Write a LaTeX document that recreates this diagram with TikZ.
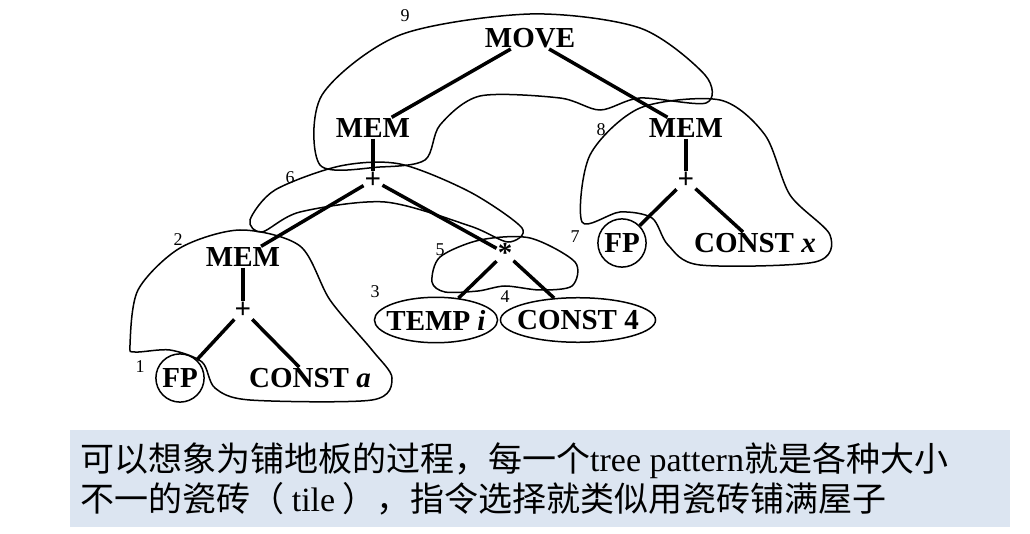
\documentclass[tikz,border=0pt]{standalone}
\usepackage{fontspec}
\setmainfont{Liberation Serif}
\newfontfamily\cjk{Noto Sans CJK SC}
\usetikzlibrary{shapes.geometric}
\begin{document}
\begin{tikzpicture}
[
x=1pt, y=-1pt,
op-a/.style={font=\fontsize{29}{31}\selectfont\bfseries, inner sep=1pt},
leaf-c/.style={op-a, circle, draw, line width=1.5pt, inner sep=3pt},
leaf-e/.style={op-a, ellipse, draw, line width=1.5pt, inner xsep=-6pt, inner ysep=6pt},
num-a/.style={font=\fontsize{18}{20}\selectfont},
edge-a/.style={line width=3.5pt},
tile-a/.style={line width=1.5pt}
]
\useasboundingbox (0,0) rectangle (1030,534);
% tree
\node (move)    [op-a]   at (530,38)  {MOVE};
\node (mem-l)   [op-a]   at (373,128) {MEM};
\node (mem-r)   [op-a]   at (686,128) {MEM};
\node (plus-r)  [op-a]   at (686,180) {+};
\node (fp-r)    [leaf-c] at (622,243) {FP};
\node (const-x) [op-a]   at (755,243) {CONST \textit{x}};
\node (plus-c)  [op-a]   at (373,180) {+};
\node (star)    [op-a]   at (505,253) {*};
\node (temp)    [leaf-e] at (436,320) {TEMP \textit{i}};
\node (const-4) [leaf-e] at (578,320) {CONST 4};
\node (mem-b)   [op-a]   at (243,257) {MEM};
\node (plus-b)  [op-a]   at (243,310) {+};
\node (fp-b)    [leaf-c] at (180,378) {FP};
\node (const-a) [op-a]   at (310,378) {CONST \textit{a}};
\draw [edge-a] (move) -- (mem-l);
\draw [edge-a] (move) -- (mem-r);
\draw [edge-a] (mem-r) -- (plus-r);
\draw [edge-a] (plus-r) -- (fp-r);
\draw [edge-a] (plus-r) -- (const-x);
\draw [edge-a] (mem-l) -- (plus-c);
\draw [edge-a] (plus-c) -- (mem-b);
\draw [edge-a] (plus-c) -- (star);
\draw [edge-a] (star) -- (temp);
\draw [edge-a] (star) -- (const-4);
\draw [edge-a] (mem-b) -- (plus-b);
\draw [edge-a] (plus-b) -- (fp-b);
\draw [edge-a] (plus-b) -- (const-a);
% tiles
\draw [tile-a] plot [smooth cycle] coordinates {(320,165) (322,95) (400,35) (530,14) (640,28) (705,75) (706,103) (640,98) (600,110) (560,98) (480,96) (440,125) (425,160) (380,167)};
\draw [tile-a] plot [smooth cycle] coordinates {(582,222) (590,155) (640,108) (720,100) (765,135) (790,195) (830,235) (815,262) (700,265) (668,245) (652,218) (620,212)};
\draw [tile-a] plot [smooth cycle] coordinates {(250,220) (275,190) (340,166) (400,164) (470,192) (522,228) (508,242) (470,226) (385,202) (300,212) (262,232)};
\draw [tile-a] plot [smooth cycle] coordinates {(432,282) (440,257) (480,240) (530,238) (575,262) (572,286) (540,290) (505,286) (478,291) (445,292)};
\draw [tile-a] plot [smooth cycle] coordinates {(130,345) (138,290) (180,248) (240,230) (300,246) (330,300) (372,350) (392,378) (372,400) (250,400) (215,388) (202,362) (170,350) (135,352)};
% labels
\node (n9) [num-a] at (405,16)  {9};
\node (n8) [num-a] at (601,130) {8};
\node (n7) [num-a] at (575,237) {7};
\node (n6) [num-a] at (290,178) {6};
\node (n5) [num-a] at (440,250) {5};
\node (n4) [num-a] at (505,297) {4};
\node (n3) [num-a] at (375,292) {3};
\node (n2) [num-a] at (178,240) {2};
\node (n1) [num-a] at (140,367) {1};
% note
\fill [fill={rgb,255:red,220;green,229;blue,241}] (70,430) rectangle (1010,527);
\node (note) [anchor=north west, align=left, font=\cjk\fontsize{34}{40}\selectfont, inner sep=0pt] at (80,442)
  {可以想象为铺地板的过程，每一个{\rmfamily tree pattern}就是各种大小\\不一的瓷砖（ {\rmfamily tile} ），指令选择就类似用瓷砖铺满屋子};
\end{tikzpicture}
\end{document}
